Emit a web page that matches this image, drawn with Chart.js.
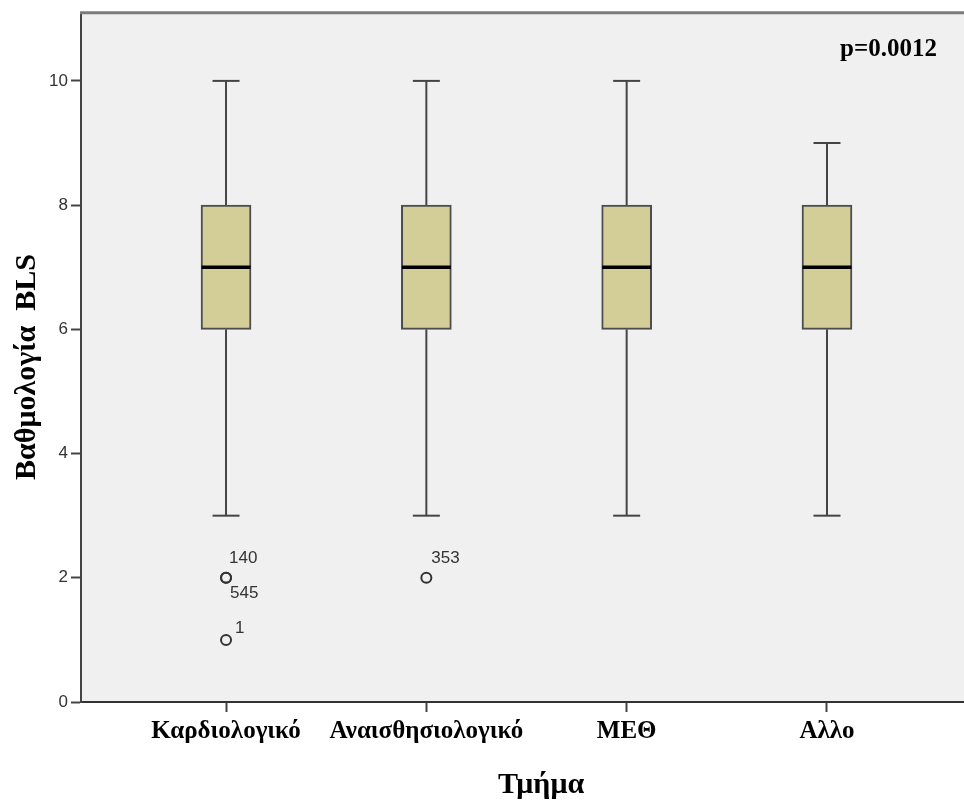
<!DOCTYPE html>
<html>
<head>
<meta charset="utf-8">
<script src="https://cdn.jsdelivr.net/npm/chart.js@4/dist/chart.umd.min.js"></script>
<style>
  html, body { margin: 0; padding: 0; background: #ffffff; overflow: hidden; }
  #wrap { width: 964px; height: 808px; }
  canvas { display: block; }
</style>
</head>
<body>
<div id="wrap"><canvas id="c" width="964" height="808"></canvas></div>
<script>
// Five-number summaries of BLS score per department
const departments = ['Καρδιολογικό', 'Αναισθησιολογικό', 'ΜΕΘ', 'Αλλο'];
const whiskerLow  = [3, 3, 3, 3];
const quartile1   = [6, 6, 6, 6];
const medians     = [7, 7, 7, 7];
const quartile3   = [8, 8, 8, 8];
const whiskerHigh = [10, 10, 10, 9];

// Outlying cases: department index, score, case id
const outlierDept  = [0, 0, 0, 1];
const outlierScore = [2, 2, 1, 2];
const outlierCase  = ['140', '545', '1', '353'];

const yTickValues = [0, 2, 4, 6, 8, 10];
const pValueText = 'p=0.0012';
const xTitle = 'Τμήμα';
const yTitle = 'Βαθμολογία  BLS';

const SERIF = "'Liberation Serif', 'Times New Roman', serif";
const SANS = "'Liberation Sans', Arial, sans-serif";

const boxData = departments.map((_, i) => ({ x: i + 1, y: [quartile1[i], quartile3[i]] }));
const outlierData = outlierScore.map((v, i) => ({ x: outlierDept[i] + 1, y: v }));

// label offsets for the case ids next to outlier circles
const caseLabelOffset = [[3, -19], [4, 16], [9, -12], [5, -19]];

const boxPlotPlugin = {
  id: 'boxPlot',
  beforeDraw(chart) {
    const { ctx, chartArea: a } = chart;
    ctx.save();
    ctx.fillStyle = '#f0f0f0';
    ctx.fillRect(a.left, a.top, a.right - a.left, a.bottom - a.top);
    ctx.restore();
  },
  beforeDatasetsDraw(chart) {
    const { ctx, scales: { x, y } } = chart;
    ctx.save();
    ctx.strokeStyle = '#444444';
    ctx.lineWidth = 2;
    departments.forEach((_, i) => {
      const cx = x.getPixelForValue(i + 1);
      const capHalf = 13.5;
      // lower whisker
      ctx.beginPath();
      ctx.moveTo(cx, y.getPixelForValue(whiskerLow[i]));
      ctx.lineTo(cx, y.getPixelForValue(quartile1[i]));
      ctx.stroke();
      // upper whisker
      ctx.beginPath();
      ctx.moveTo(cx, y.getPixelForValue(quartile3[i]));
      ctx.lineTo(cx, y.getPixelForValue(whiskerHigh[i]));
      ctx.stroke();
      // caps
      [whiskerLow[i], whiskerHigh[i]].forEach(v => {
        const py = y.getPixelForValue(v);
        ctx.beginPath();
        ctx.moveTo(cx - capHalf, py);
        ctx.lineTo(cx + capHalf, py);
        ctx.stroke();
      });
    });
    ctx.restore();
  },
  afterDatasetsDraw(chart) {
    const { ctx, scales: { x, y } } = chart;
    ctx.save();
    // medians
    ctx.strokeStyle = '#000000';
    ctx.lineWidth = 3.5;
    departments.forEach((_, i) => {
      const cx = x.getPixelForValue(i + 1);
      const py = y.getPixelForValue(medians[i]);
      ctx.beginPath();
      ctx.moveTo(cx - 24.5, py);
      ctx.lineTo(cx + 24.5, py);
      ctx.stroke();
    });
    // case ids of outliers
    ctx.fillStyle = '#333333';
    ctx.font = '17px ' + SANS;
    ctx.textAlign = 'left';
    ctx.textBaseline = 'middle';
    outlierCase.forEach((id, i) => {
      const px = x.getPixelForValue(outlierDept[i] + 1);
      const py = y.getPixelForValue(outlierScore[i]);
      const [dx, dy] = caseLabelOffset[i];
      ctx.fillText(id, px + dx, py + dy);
    });
    ctx.restore();
  },
  afterDraw(chart) {
    const { ctx, chartArea: a } = chart;
    ctx.save();
    // top frame line
    ctx.strokeStyle = '#7c7c7c';
    ctx.lineWidth = 3;
    ctx.beginPath();
    ctx.moveTo(a.left - 1, a.top - 0.5);
    ctx.lineTo(a.right, a.top - 0.5);
    ctx.stroke();
    // significance note
    ctx.fillStyle = '#000000';
    ctx.font = 'bold 25px ' + SERIF;
    ctx.textAlign = 'right';
    ctx.textBaseline = 'alphabetic';
    ctx.fillText(pValueText, 937, 56);
    // axis titles
    ctx.font = 'bold 30px ' + SERIF;
    ctx.textAlign = 'center';
    ctx.textBaseline = 'middle';
    ctx.fillText(xTitle, 541, 785);
    ctx.translate(27, 367);
    ctx.rotate(-Math.PI / 2);
    ctx.font = 'bold 30px ' + SERIF;
    ctx.fillText(yTitle, 0, 0);
    ctx.restore();
  }
};

new Chart(document.getElementById('c'), {
  type: 'bar',
  data: {
    datasets: [
      {
        type: 'bar',
        data: boxData,
        backgroundColor: '#d3ce97',
        borderColor: '#4d4d4d',
        borderWidth: 2,
        borderSkipped: false,
        barThickness: 50,
        order: 2
      },
      {
        type: 'scatter',
        data: outlierData,
        pointStyle: 'circle',
        pointRadius: 5,
        borderWidth: 2,
        borderColor: '#333333',
        backgroundColor: 'rgba(0,0,0,0)',
        order: 1
      }
    ]
  },
  options: {
    responsive: false,
    animation: false,
    devicePixelRatio: 1,
    layout: { autoPadding: false, padding: { top: 9, right: 0, left: 0, bottom: 0 } },
    plugins: { legend: { display: false }, tooltip: { enabled: false } },
    scales: {
      x: {
        type: 'linear',
        offset: false,
        min: 0.276,
        max: 4.684,
        afterFit(scale) { scale.height = 106; scale.paddingRight = 0; scale.paddingLeft = 0; },
        afterBuildTicks(scale) { scale.ticks = departments.map((_, i) => ({ value: i + 1 })); },
        ticks: {
          autoSkip: false,
          maxRotation: 0,
          padding: 5,
          color: '#000000',
          font: { family: SERIF, size: 25, weight: 'bold' },
          callback: (v) => departments[v - 1]
        },
        grid: { display: true, offset: false, drawOnChartArea: false, drawTicks: true, tickLength: 10, color: '#444444', tickWidth: 2 },
        border: { display: true, color: '#333333', width: 2 }
      },
      y: {
        type: 'linear',
        min: 0,
        max: 11.09,
        afterFit(scale) { scale.width = 81; },
        afterBuildTicks(scale) { scale.ticks = yTickValues.map(v => ({ value: v })); },
        ticks: {
          padding: 3,
          color: '#333333',
          font: { family: SANS, size: 17 }
        },
        grid: { display: true, drawOnChartArea: false, drawTicks: true, tickLength: 10, color: '#444444', tickWidth: 2 },
        border: { display: true, color: '#444444', width: 2 }
      }
    }
  },
  plugins: [boxPlotPlugin]
});
</script>
</body>
</html>
